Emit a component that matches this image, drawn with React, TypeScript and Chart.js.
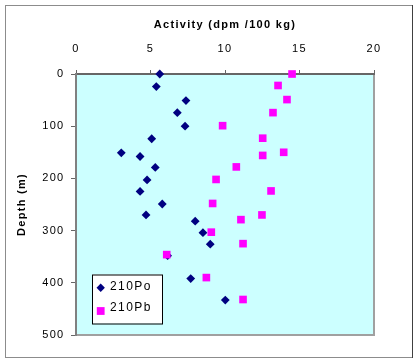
import React, { useEffect, useRef } from 'react';
import { Chart, registerables } from 'chart.js';

Chart.register(...registerables);

// Activity (dpm/100 kg) and depth (m)
const poActivity = [5.62, 5.39, 7.38, 6.8, 7.32, 5.08, 3.04, 4.3, 5.32, 4.77, 4.3, 5.79, 4.7, 8.0, 8.52, 9.01, 6.15, 7.7, 10.02];
const poDepth = [0, 24, 51, 74, 100, 124, 151, 158, 179, 203, 225, 249, 270, 282, 304, 326, 348, 392, 433];
const pbActivity = [14.5, 13.56, 14.16, 13.22, 9.84, 12.53, 13.94, 12.53, 10.76, 9.4, 13.09, 9.17, 12.48, 11.07, 9.08, 11.21, 6.09, 8.75, 11.21];
const pbDepth = [0, 22, 49, 74, 99, 123, 150, 156, 178, 202, 224, 248, 270, 279, 303, 325, 346, 390, 432];

const seriesLabels = ['210Po', '210Pb'];
const xTitle = 'Activity (dpm /100 kg)';
const yTitle = 'Depth (m)';
const xMin = 0, xMax = 20, xStep = 5;
const yMin = 0, yMax = 500, yStep = 100;

const FONT = "'Liberation Sans', Arial, sans-serif";

const bgPlugin = {
  id: 'bgPlugin',
  beforeDraw(chart: any) {
    const { ctx, chartArea, width, height } = chart;
    ctx.save();
    ctx.fillStyle = '#ffffff';
    ctx.fillRect(0, 0, width, height);
    // outer frame
    ctx.strokeStyle = '#8c8c8c';
    ctx.lineWidth = 1;
    ctx.strokeRect(5.5, 5.5, 407, 352);
    ctx.strokeStyle = '#404040';
    ctx.beginPath();
    ctx.moveTo(412.5, 5);
    ctx.lineTo(412.5, 358);
    ctx.stroke();
    // plot background
    ctx.fillStyle = '#ccffff';
    ctx.fillRect(chartArea.left, chartArea.top, chartArea.right - chartArea.left, chartArea.bottom - chartArea.top);
    // right / bottom plot border
    ctx.strokeStyle = '#a0a0a0';
    ctx.lineWidth = 2;
    ctx.beginPath();
    ctx.moveTo(chartArea.right, chartArea.top);
    ctx.lineTo(chartArea.right, chartArea.bottom);
    ctx.lineTo(chartArea.left, chartArea.bottom);
    ctx.stroke();
    ctx.restore();
    (ctx as any).letterSpacing = '1.3px';
  },
};

const legendPlugin = {
  id: 'customLegend',
  afterDraw(chart: any) {
    const { ctx } = chart;
    ctx.save();
    const bx = 92, by = 274.5, bw = 70, bh = 49;
    ctx.fillStyle = '#ffffff';
    ctx.fillRect(bx, by, bw, bh);
    ctx.strokeStyle = '#000000';
    ctx.lineWidth = 1;
    ctx.strokeRect(bx + 0.5, by + 0.5, bw, bh);
    ctx.font = `12px ${FONT}`;
    (ctx as any).letterSpacing = '1.4px';
    ctx.textAlign = 'left';
    ctx.textBaseline = 'alphabetic';
    chart.data.datasets.forEach((ds: any, i: number) => {
      const my = i === 0 ? 287.7 : 311;
      const ty = i === 0 ? 290 : 311;
      const mx = 100.7;
      ctx.fillStyle = ds.backgroundColor;
      ctx.beginPath();
      if (ds.pointStyle === 'rectRot') {
        const r = 4.2;
        ctx.moveTo(mx, my - r);
        ctx.lineTo(mx + r, my);
        ctx.lineTo(mx, my + r);
        ctx.lineTo(mx - r, my);
        ctx.closePath();
      } else {
        const s = 3.9;
        ctx.rect(mx - s, my - s, 2 * s, 2 * s);
      }
      ctx.fill();
      ctx.fillStyle = '#000000';
      ctx.fillText(ds.label, 110, ty);
    });
    ctx.restore();
  },
};

export default function App() {
  const ref = useRef<HTMLCanvasElement | null>(null);
  useEffect(() => {
    if (!ref.current) return;
    const chart = new Chart(ref.current, {
      type: 'scatter',
      data: {
        datasets: [
          {
            label: seriesLabels[0],
            data: poActivity.map((v, i) => ({ x: v, y: poDepth[i] })),
            pointStyle: 'rectRot',
            pointRadius: 4.4,
            backgroundColor: '#000080',
            borderColor: '#000080',
            borderWidth: 0,
            clip: false,
            order: 1,
          },
          {
            label: seriesLabels[1],
            data: pbActivity.map((v, i) => ({ x: v, y: pbDepth[i] })),
            pointStyle: 'rect',
            pointRadius: 5.4,
            backgroundColor: '#ff00ff',
            borderColor: '#ff00ff',
            borderWidth: 0,
            clip: false,
            order: 0,
          },
        ],
      },
      options: {
        animation: false,
        responsive: false,
        devicePixelRatio: 1,
        layout: { padding: { left: 0, top: 0, right: 46, bottom: 29 } },
        plugins: {
          legend: { display: false },
          tooltip: { enabled: false },
        },
        scales: {
          x: {
            type: 'linear',
            position: 'top',
            min: xMin,
            max: xMax,
            ticks: {
              stepSize: xStep,
              color: '#000000',
              font: { family: FONT, size: 11 },
              padding: 14,
            },
            grid: { drawOnChartArea: false, drawTicks: true, tickLength: 4, tickColor: '#666666', tickWidth: 1 },
            border: { display: true, color: '#666666', width: 2 },
            title: {
              display: true,
              text: xTitle,
              color: '#000000',
              font: { family: FONT, size: 11, weight: 'bold' },
              padding: { top: 18, bottom: 0 },
            },
            afterFit: (s: any) => { s.height = 74; },
          },
          y: {
            type: 'linear',
            position: 'left',
            reverse: true,
            min: yMin,
            max: yMax,
            ticks: {
              stepSize: yStep,
              color: '#000000',
              font: { family: FONT, size: 11 },
              padding: 6.5,
            },
            grid: { drawOnChartArea: false, drawTicks: true, tickLength: 5, tickColor: '#666666', tickWidth: 1 },
            border: { display: true, color: '#808080', width: 2 },
            title: {
              display: true,
              text: yTitle,
              color: '#000000',
              font: { family: FONT, size: 11, weight: 'bold' },
              padding: { top: 15.4, bottom: 0 },
            },
            afterFit: (s: any) => { s.width = 76; },
          },
        },
      } as any,
      plugins: [bgPlugin, legendPlugin],
    });
    return () => chart.destroy();
  }, []);
  return (
    <div style={{ position: 'absolute', left: 0, top: 0, width: 420, height: 364 }}>
      <canvas ref={ref} width={420} height={364} style={{ display: 'block' }} />
    </div>
  );
}
